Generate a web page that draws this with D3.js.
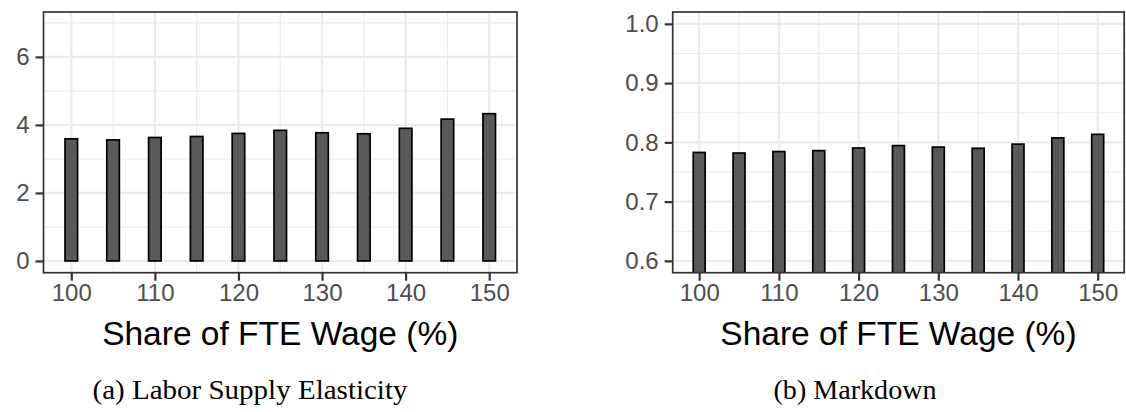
<!DOCTYPE html>
<html><head><meta charset="utf-8">
<script src="https://cdn.jsdelivr.net/npm/d3@7"></script>
<style>body{margin:0;background:#fff}svg{display:block}</style>
</head><body>
<svg id="c" width="1126" height="412"></svg>
<script>
const wageShare = [100,105,110,115,120,125,130,135,140,145,150];
const elasticity = [3.59,3.56,3.63,3.66,3.75,3.84,3.77,3.74,3.90,4.17,4.33];
const markdown = [0.783,0.782,0.7845,0.786,0.7905,0.7945,0.792,0.790,0.797,0.8075,0.8135];
const xTicks = [100,110,120,130,140,150];
const leftYTicks = [0,2,4,6];
const leftYMinor = [1,3,5,7];
const rightYTicks = [0.6,0.7,0.8,0.9,1.0];
const rightYMinor = [0.65,0.75,0.85,0.95];
const xMinor = [105,115,125,135,145];
const xTitle = "Share of FTE Wage (%)";
const captions = ["(a) Labor Supply Elasticity", "(b) Markdown"];

const svg = d3.select("#c");
const barW = 1.5;

function panel(opt){
  const g = svg.append("g");
  const x = d3.scaleLinear().domain([96.675,153.325]).range([opt.x0,opt.x1]);
  const y = d3.scaleLinear().domain(opt.yDom).range([opt.y1,opt.y0]);
  g.append("rect").attr("x",opt.x0).attr("y",opt.y0).attr("width",opt.x1-opt.x0).attr("height",opt.y1-opt.y0).attr("fill","#fff");
  g.selectAll(".ymin").data(opt.yMinor.filter(v=>v>=opt.yDom[0]&&v<=opt.yDom[1])).join("line").attr("class","ymin")
    .attr("x1",opt.x0).attr("x2",opt.x1).attr("y1",d=>y(d)).attr("y2",d=>y(d))
    .attr("stroke","#ebebeb").attr("stroke-width",1.1);
  g.selectAll(".xmin").data(xMinor).join("line").attr("class","xmin")
    .attr("y1",opt.y0).attr("y2",opt.y1).attr("x1",d=>x(d)).attr("x2",d=>x(d))
    .attr("stroke","#ebebeb").attr("stroke-width",1.1);
  g.selectAll(".ymaj").data(opt.yTicks).join("line").attr("class","ymaj")
    .attr("x1",opt.x0).attr("x2",opt.x1).attr("y1",d=>y(d)).attr("y2",d=>y(d))
    .attr("stroke","#ebebeb").attr("stroke-width",2.2);
  g.selectAll(".xmaj").data(xTicks).join("line").attr("class","xmaj")
    .attr("y1",opt.y0).attr("y2",opt.y1).attr("x1",d=>x(d)).attr("x2",d=>x(d))
    .attr("stroke","#ebebeb").attr("stroke-width",2.2);
  const cid = "clip"+opt.id;
  svg.append("clipPath").attr("id",cid).append("rect")
    .attr("x",opt.x0).attr("y",opt.y0).attr("width",opt.x1-opt.x0).attr("height",opt.y1-opt.y0);
  g.append("g").attr("clip-path",`url(#${cid})`).selectAll("rect").data(wageShare.map((w,i)=>({w,v:opt.vals[i]}))).join("rect")
    .attr("x",d=>x(d.w-barW/2)).attr("width",d=>x(d.w+barW/2)-x(d.w-barW/2))
    .attr("y",d=>y(d.v)).attr("height",d=>y(0)-y(d.v))
    .attr("fill","#595959").attr("stroke","#000").attr("stroke-width",1.7);
  g.append("rect").attr("x",opt.x0).attr("y",opt.y0).attr("width",opt.x1-opt.x0).attr("height",opt.y1-opt.y0)
    .attr("fill","none").attr("stroke","#333").attr("stroke-width",1.7);
  const ya = d3.axisLeft(y).tickValues(opt.yTicks).tickSize(8).tickPadding(6).tickFormat(opt.fmt);
  const ay = g.append("g").attr("transform",`translate(${opt.x0},0)`).call(ya);
  ay.select(".domain").remove();
  ay.selectAll(".tick line").attr("stroke","#333").attr("stroke-width",2.2);
  ay.selectAll(".tick text").attr("fill","#4d4d4d").style("font-family","'Liberation Sans',Arial,sans-serif").style("font-size","24px");
  const xa = d3.axisBottom(x).tickValues(xTicks).tickSize(8).tickPadding(3).tickFormat(d3.format("d"));
  const ax = g.append("g").attr("transform",`translate(0,${opt.y1})`).call(xa);
  ax.select(".domain").remove();
  ax.selectAll(".tick line").attr("stroke","#333").attr("stroke-width",2.2);
  ax.selectAll(".tick text").attr("fill","#4d4d4d").style("font-family","'Liberation Sans',Arial,sans-serif").style("font-size","24px");
  g.append("text").attr("x",(opt.x0+opt.x1)/2).attr("y",345).attr("text-anchor","middle")
    .style("font-family","'Liberation Sans',Arial,sans-serif").style("font-size","33.5px").attr("fill","#000").text(xTitle);
  g.append("text").attr("x",opt.capX).attr("y",399).attr("text-anchor","middle")
    .style("font-family","'Liberation Serif','Times New Roman',serif").style("font-size","27.5px").attr("fill","#000")
    .attr("textLength",opt.capW).attr("lengthAdjust","spacingAndGlyphs").text(opt.caption);
}

panel({id:1,x0:43.5,x1:517,y0:12,y1:272.7,yDom:[-0.345,7.32],yTicks:leftYTicks,yMinor:leftYMinor,vals:elasticity,fmt:d3.format("d"),caption:captions[0],capX:250,capW:315});
panel({id:2,x0:672.7,x1:1124.2,y0:12,y1:272.7,yDom:[0.58,1.02],yTicks:rightYTicks,yMinor:rightYMinor,vals:markdown,fmt:d3.format(".1f"),caption:captions[1],capX:855,capW:163});
</script>
</body></html>
